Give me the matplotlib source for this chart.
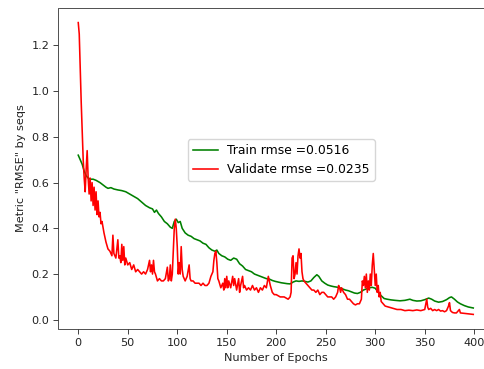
import matplotlib
matplotlib.use("Agg")
import matplotlib.pyplot as plt

train_epochs = [0, 2, 4, 6, 8, 10, 12, 15, 18, 20, 22, 25, 28, 30, 33, 36, 40, 44, 48, 52, 56, 60, 64, 68, 72, 75, 77, 79, 81, 84, 87, 90, 93, 95, 97, 99, 101, 103, 105, 108, 111, 114, 117, 120, 123, 126, 129, 132, 135, 138, 140, 142, 145, 148, 151, 154, 157, 160, 163, 166, 169, 172, 175, 178, 181, 184, 187, 190, 193, 196, 199, 202, 205, 208, 211, 214, 217, 220, 223, 226, 229, 232, 235, 238, 241, 243, 246, 249, 252, 255, 258, 261, 264, 267, 270, 273, 276, 279, 282, 285, 288, 291, 294, 297, 300, 303, 306, 309, 312, 316, 320, 325, 330, 335, 338, 342, 346, 350, 354, 357, 360, 364, 368, 372, 375, 377, 380, 383, 386, 390, 394, 399]
train_rmse = [0.72, 0.70, 0.68, 0.65, 0.63, 0.62, 0.615, 0.615, 0.61, 0.605, 0.60, 0.59, 0.58, 0.575, 0.578, 0.572, 0.568, 0.565, 0.56, 0.55, 0.54, 0.53, 0.515, 0.50, 0.49, 0.485, 0.47, 0.48, 0.465, 0.45, 0.43, 0.42, 0.405, 0.40, 0.43, 0.44, 0.425, 0.43, 0.40, 0.38, 0.37, 0.365, 0.355, 0.35, 0.345, 0.335, 0.33, 0.315, 0.305, 0.30, 0.305, 0.29, 0.28, 0.275, 0.265, 0.26, 0.27, 0.265, 0.245, 0.235, 0.22, 0.215, 0.21, 0.20, 0.195, 0.19, 0.185, 0.18, 0.178, 0.172, 0.168, 0.165, 0.162, 0.16, 0.158, 0.157, 0.165, 0.17, 0.168, 0.17, 0.168, 0.165, 0.17, 0.185, 0.197, 0.19, 0.17, 0.16, 0.152, 0.148, 0.145, 0.143, 0.14, 0.135, 0.13, 0.127, 0.122, 0.117, 0.115, 0.12, 0.13, 0.135, 0.14, 0.142, 0.138, 0.12, 0.105, 0.093, 0.09, 0.087, 0.085, 0.083, 0.085, 0.09, 0.085, 0.082, 0.083, 0.088, 0.095, 0.09, 0.082, 0.077, 0.08, 0.088, 0.097, 0.10, 0.09, 0.078, 0.07, 0.062, 0.056, 0.0516]

val_epochs = [0, 1, 2, 3, 4, 5, 6, 7, 8, 9, 10, 11, 12, 13, 14, 15, 16, 17, 18, 19, 20, 21, 22, 23, 24, 26, 28, 30, 32, 34, 35, 36, 38, 40, 41, 42, 43, 44, 45, 46, 47, 48, 50, 52, 54, 56, 58, 60, 62, 64, 66, 68, 70, 72, 73, 74, 75, 76, 77, 78, 80, 82, 84, 86, 88, 90, 91, 92, 93, 94, 95, 96, 97, 98, 99, 100, 101, 102, 103, 104, 105, 106, 108, 110, 112, 113, 114, 116, 118, 120, 122, 124, 126, 128, 130, 132, 134, 136, 137, 138, 139, 140, 141, 142, 144, 146, 147, 148, 149, 150, 151, 152, 154, 156, 157, 158, 160, 162, 163, 164, 166, 167, 168, 170, 172, 174, 176, 178, 180, 182, 184, 186, 188, 190, 192, 193, 194, 196, 198, 200, 204, 208, 212, 214, 215, 216, 217, 218, 219, 220, 221, 222, 223, 224, 225, 226, 227, 228, 230, 232, 234, 236, 238, 240, 242, 244, 246, 248, 250, 252, 254, 256, 258, 260, 262, 263, 264, 265, 266, 268, 270, 272, 274, 276, 278, 280, 282, 284, 286, 287, 288, 289, 290, 291, 292, 293, 294, 295, 296, 297, 298, 299, 300, 301, 302, 303, 304, 305, 306, 308, 310, 314, 318, 322, 326, 330, 334, 338, 342, 346, 350, 352, 353, 354, 356, 358, 360, 362, 364, 366, 368, 370, 372, 374, 375, 376, 378, 380, 382, 384, 385, 386, 390, 394, 399]
val_rmse = [1.30, 1.25, 1.10, 0.95, 0.82, 0.70, 0.62, 0.56, 0.66, 0.74, 0.62, 0.55, 0.62, 0.52, 0.60, 0.50, 0.58, 0.48, 0.56, 0.46, 0.52, 0.45, 0.47, 0.42, 0.43, 0.38, 0.34, 0.31, 0.30, 0.28, 0.37, 0.29, 0.27, 0.35, 0.27, 0.28, 0.25, 0.33, 0.26, 0.32, 0.24, 0.27, 0.24, 0.25, 0.22, 0.24, 0.21, 0.22, 0.21, 0.20, 0.21, 0.20, 0.22, 0.26, 0.21, 0.24, 0.20, 0.26, 0.21, 0.20, 0.17, 0.18, 0.17, 0.17, 0.18, 0.23, 0.17, 0.18, 0.24, 0.17, 0.20, 0.30, 0.40, 0.44, 0.40, 0.32, 0.20, 0.25, 0.20, 0.32, 0.22, 0.19, 0.17, 0.19, 0.24, 0.18, 0.17, 0.17, 0.16, 0.16, 0.16, 0.15, 0.16, 0.15, 0.15, 0.16, 0.19, 0.21, 0.26, 0.29, 0.30, 0.25, 0.18, 0.17, 0.14, 0.16, 0.13, 0.18, 0.14, 0.19, 0.14, 0.17, 0.14, 0.19, 0.15, 0.18, 0.13, 0.18, 0.12, 0.15, 0.19, 0.14, 0.15, 0.13, 0.14, 0.13, 0.15, 0.13, 0.14, 0.12, 0.14, 0.13, 0.15, 0.14, 0.19, 0.17, 0.15, 0.12, 0.11, 0.11, 0.10, 0.10, 0.09, 0.10, 0.12, 0.27, 0.28, 0.18, 0.20, 0.25, 0.20, 0.28, 0.31, 0.27, 0.29, 0.21, 0.18, 0.17, 0.16, 0.15, 0.14, 0.13, 0.13, 0.12, 0.13, 0.11, 0.12, 0.12, 0.11, 0.10, 0.10, 0.10, 0.09, 0.10, 0.12, 0.15, 0.14, 0.12, 0.14, 0.12, 0.11, 0.09, 0.09, 0.08, 0.07, 0.065, 0.07, 0.07, 0.09, 0.17, 0.15, 0.19, 0.14, 0.20, 0.12, 0.17, 0.13, 0.20, 0.15, 0.24, 0.29, 0.22, 0.15, 0.20, 0.12, 0.15, 0.10, 0.12, 0.08, 0.07, 0.06, 0.055, 0.05, 0.045, 0.045, 0.04, 0.042, 0.04, 0.043, 0.04, 0.045, 0.09, 0.055, 0.045, 0.05, 0.04, 0.045, 0.04, 0.045, 0.038, 0.04, 0.035, 0.04, 0.06, 0.075, 0.04, 0.032, 0.03, 0.03, 0.04, 0.045, 0.03, 0.028, 0.026, 0.0235]

train_label = "Train rmse =0.0516"
val_label = "Validate rmse =0.0235"

plt.rcParams['font.family'] = ['DejaVu Sans']
fs = 8.1
lfs = 8.9
fig = plt.figure(figsize=(4.85, 3.69), dpi=100)
ax = fig.add_axes([58.5 / 485, (369 - 329) / 369, (493 - 58.5) / 485, (329 - 8) / 369])
ax.plot(train_epochs, train_rmse, color='green', lw=1.15, label=train_label)
ax.plot(val_epochs, val_rmse, color='red', lw=1.15, label=val_label)
ax.set_xlabel('Number of Epochs', fontsize=fs, labelpad=3.5, color='#222222')
ax.set_ylabel('Metric "RMSE" by seqs', fontsize=fs, labelpad=3.5, color='#222222')
ax.tick_params(labelsize=fs, width=0.6, length=3.5, pad=3.2, colors='#222222')
for s in ax.spines.values():
    s.set_linewidth(0.6)
    s.set_color('#333333')
ax.legend(loc='center', bbox_to_anchor=(0.513, 0.526), fontsize=lfs, framealpha=0.8,
          handlelength=2.0, borderpad=0.4, labelspacing=0.45, handletextpad=0.8)
fig.savefig('out.png', dpi=100)
